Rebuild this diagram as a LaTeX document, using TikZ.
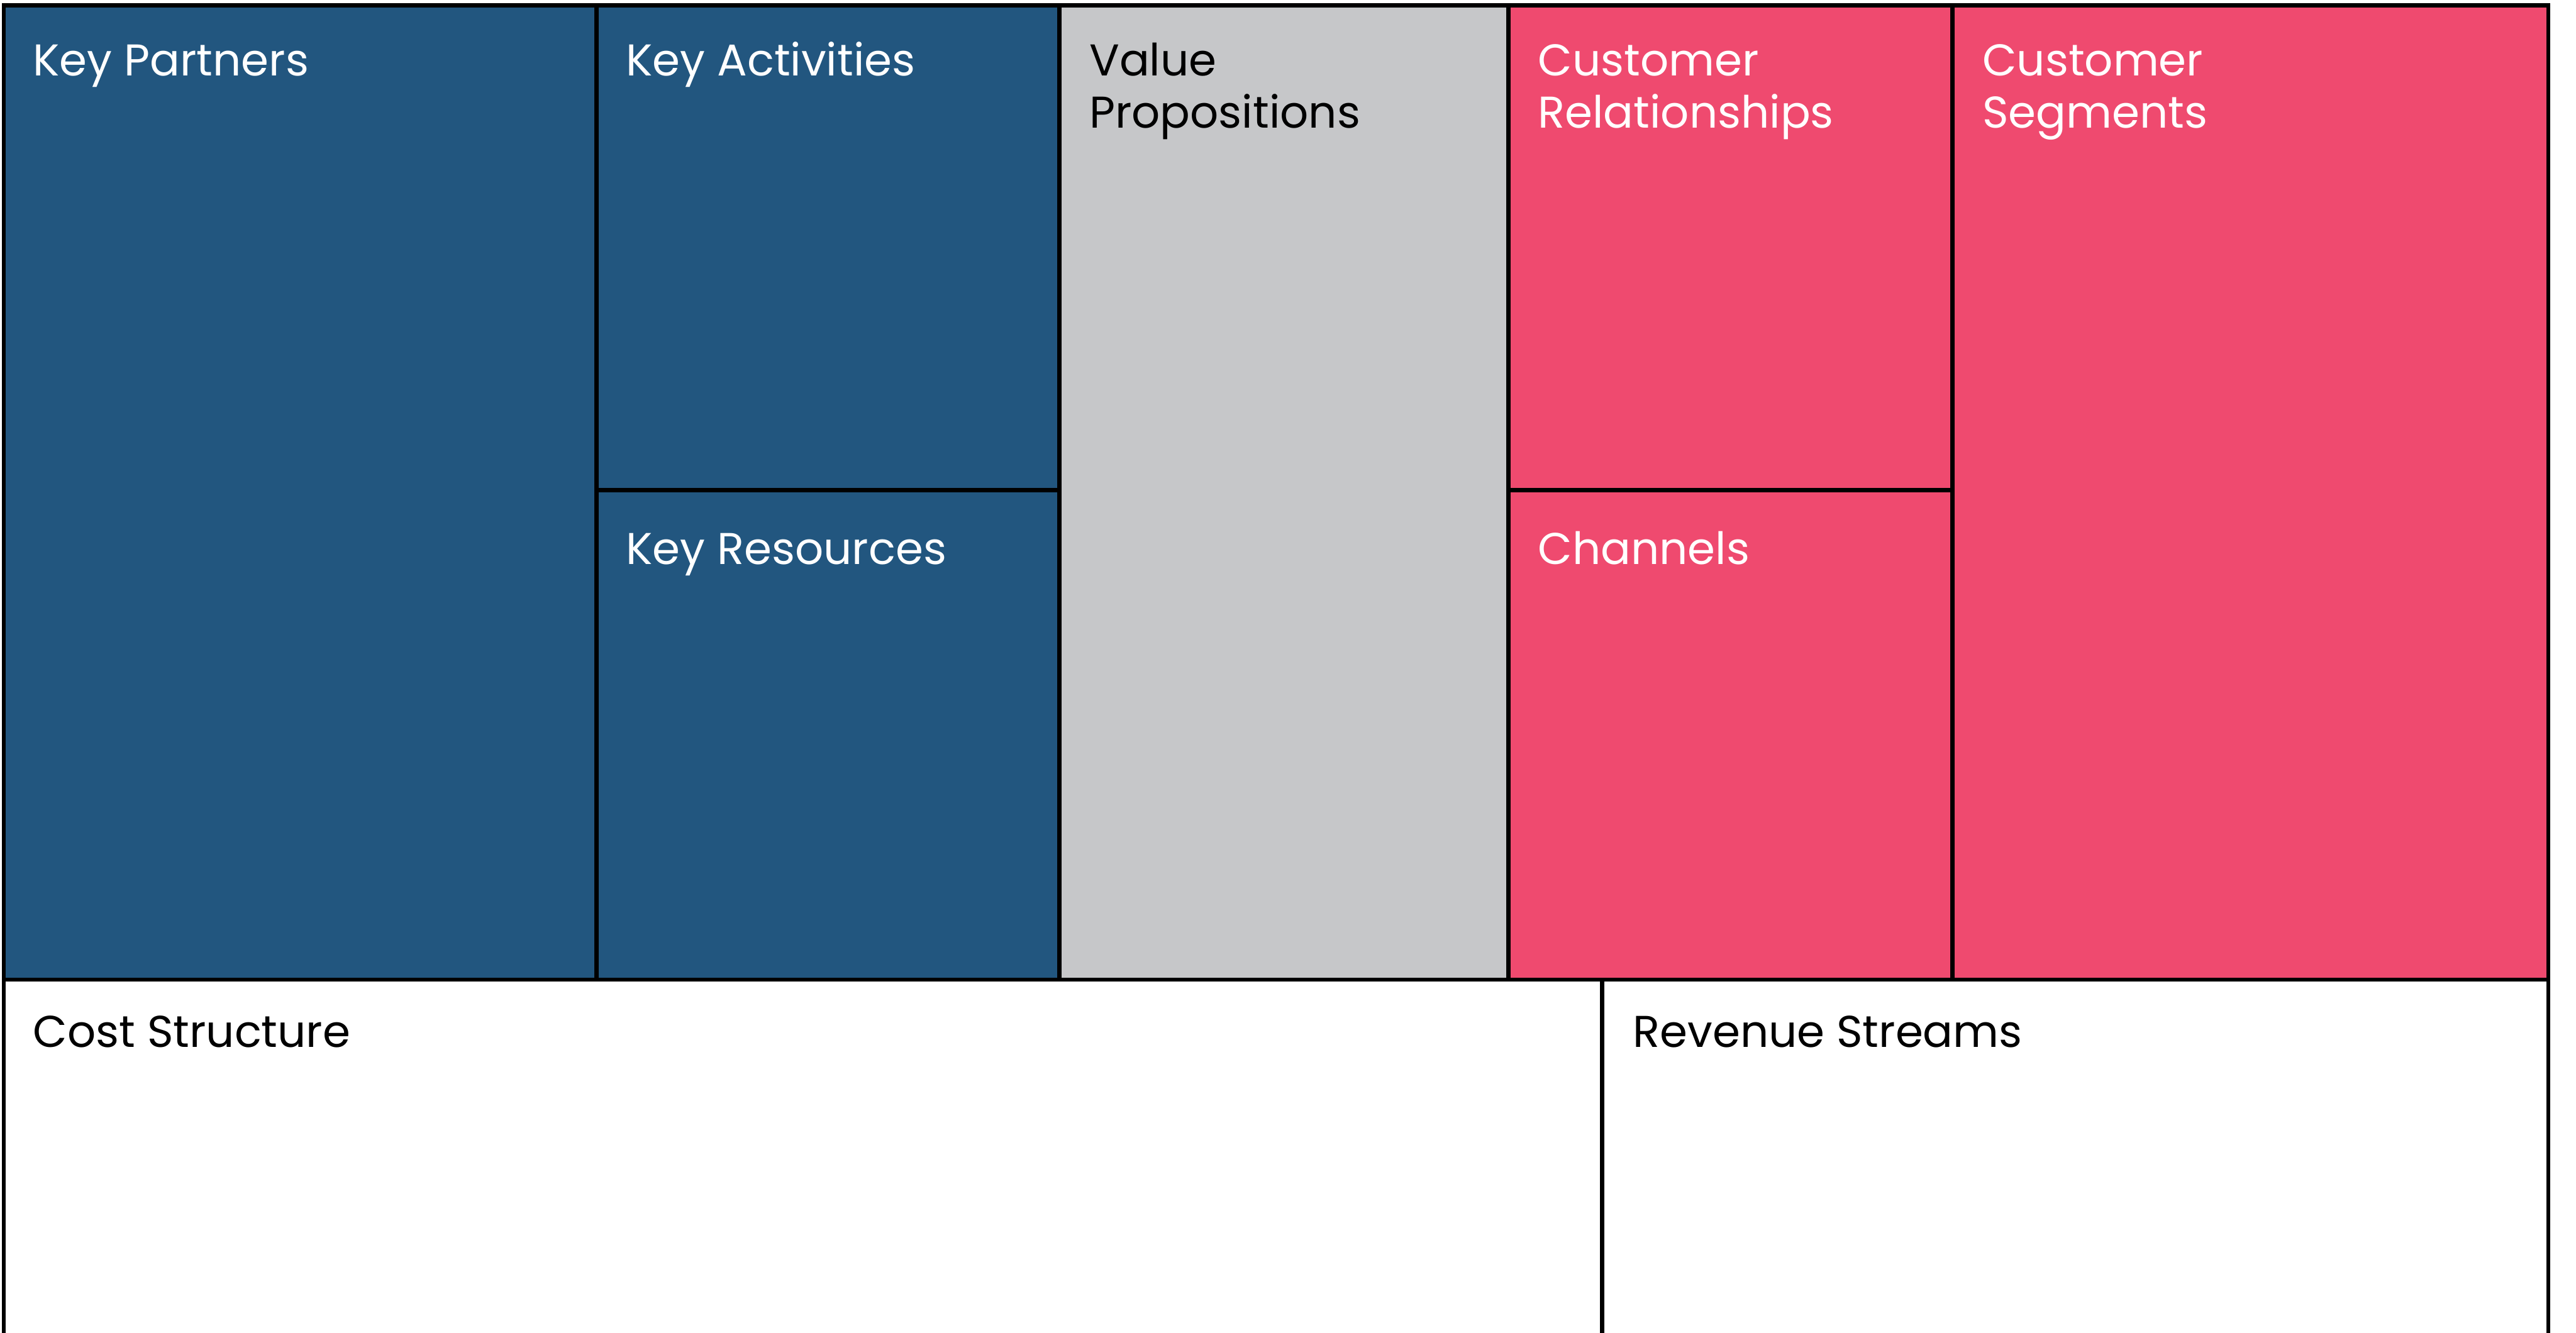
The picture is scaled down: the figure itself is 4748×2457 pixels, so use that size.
\documentclass[tikz,border=0pt]{standalone}
\usepackage{fontspec}
\setmainfont{Poppins}
\definecolor{cellblue}{RGB}{34,86,127}
\definecolor{cellgrey}{RGB}{198,199,201}
\definecolor{cellpink}{RGB}{239,74,111}

\tikzset{every picture/.style={line width=1.6pt}}
\tikzset{cell title/.style={anchor=base west,inner sep=0pt,align=left,font=\fontsize{16.4}{19.2}\selectfont}}

\begin{document}
\begin{tikzpicture}[x=0.2pt,y=0.2pt,yscale=-1,xscale=1]
		\useasboundingbox (0,0) rectangle (4748,2457);
		
		%Shape: Rectangle [id:blue]
		\fill [cellblue] (7,10) rectangle (1953,1806) ;
		%Shape: Rectangle [id:grey]
		\fill [cellgrey] (1953,10) rectangle (2780,1806) ;
		%Shape: Rectangle [id:pink]
		\fill [cellpink] (2780,10) rectangle (4697,1806) ;
		
		%Straight Lines [id:outer]
		\draw [line join=miter]  (7,2457) -- (7,10) -- (4697,10) -- (4697,2457) ;
		%Straight Lines [id:split]
		\draw    (7,1806) -- (4697,1806) ;
		%Straight Lines [id:columns]
		\draw    (1099,10) -- (1099,1806) ;
		\draw    (1953,10) -- (1953,1806) ;
		\draw    (2780,10) -- (2780,1806) ;
		\draw    (3599,10) -- (3599,1806) ;
		%Straight Lines [id:halves]
		\draw    (1099,904) -- (1953,904) ;
		\draw    (2780,904) -- (3599,904) ;
		%Straight Lines [id:bottom]
		\draw    (2953,1806) -- (2953,2457) ;
		
		% Text Node
		\draw (57,140) node (partners) [cell title,text=white]  {Key Partners};
		% Text Node
		\draw (1150,140) node (activities) [cell title,text=white]  {Key Activities};
		% Text Node
		\draw (1150,1040) node (resources) [cell title,text=white]  {Key Resources};
		% Text Node (two lines: base sits on the second one)
		\draw (2004,236) node (value) [cell title,text=black]  {Value\\Propositions};
		% Text Node
		\draw (2831,236) node (relations) [cell title,text=white]  {Customer\\Relationships};
		% Text Node
		\draw (2831,1040) node (channels) [cell title,text=white]  {Channels};
		% Text Node
		\draw (3650,236) node (segments) [cell title,text=white]  {Customer\\Segments};
		% Text Node
		\draw (57,1930) node (cost) [cell title,text=black]  {Cost Structure};
		% Text Node
		\draw (3006,1930) node (revenue) [cell title,text=black]  {Revenue Streams};
\end{tikzpicture}
\end{document}
